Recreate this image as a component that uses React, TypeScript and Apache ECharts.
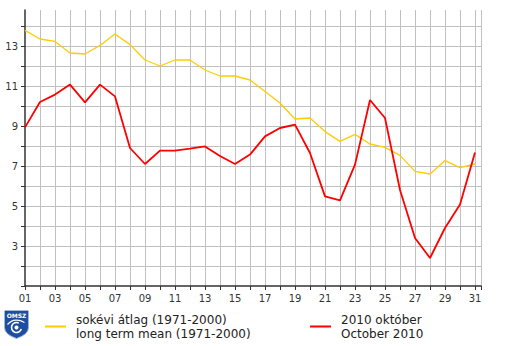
import React, { useEffect, useRef } from "react";
import * as echarts from "echarts";

const days: number[] = Array.from({ length: 31 }, (_, i) => i + 1);
const longTermMean: number[] = [
  13.78, 13.35, 13.23, 12.65, 12.6, 13.03, 13.6, 13.07, 12.3, 12.0,
  12.3, 12.3, 11.8, 11.5, 11.5, 11.3, 10.73, 10.15, 9.35, 9.4,
  8.72, 8.23, 8.58, 8.1, 7.93, 7.53, 6.73, 6.6, 7.27, 6.92, 7.1,
];
const october2010: number[] = [
  8.93, 10.2, 10.57, 11.07, 10.18, 11.07, 10.48, 7.9, 7.1, 7.77,
  7.77, 7.87, 7.98, 7.5, 7.1, 7.57, 8.48, 8.9, 9.07, 7.65,
  5.48, 5.28, 7.07, 10.3, 9.4, 5.8, 3.4, 2.4, 3.9, 5.07, 7.68,
];
const yLabelValues: number[] = [3, 5, 7, 9, 11, 13];
const yTickValues: number[] = [1, 2, 3, 4, 5, 6, 7, 8, 9, 10, 11, 12, 13, 14];
const legendMean: string[] = ["sokévi átlag (1971-2000)", "long term mean (1971-2000)"];
const legendOct: string[] = ["2010 október", "October 2010"];

const FONT = "DejaVu Sans";

echarts.graphic.registerShape(
  "omszShield",
  echarts.graphic.extendPath(
    "M1,0 L23,0 Q24,0 24,1 L24,17 Q24,24 12,28 Q0,24 0,17 L0,1 Q0,0 1,0 Z",
    {}
  )
);

export default function App() {
  const ref = useRef<HTMLDivElement>(null);
  useEffect(() => {
    if (!ref.current) return;
    const chart = echarts.init(ref.current, undefined, { renderer: "svg" });
    const axisColor = "#333";
    const gridColor = "#c0c0c0";
    chart.setOption({
      animation: false,
      backgroundColor: "#fff",
      grid: { left: 25, top: 10, right: 24, bottom: 60, containLabel: false },
      xAxis: {
        type: "value",
        min: 1,
        max: 31.4,
        interval: 1,
        axisLine: { show: true, onZero: false, lineStyle: { color: axisColor, width: 1.5 } },
        axisTick: { show: true, length: 4, lineStyle: { color: axisColor } },
        axisLabel: {
          margin: 7,
          color: "#333",
          fontFamily: FONT,
          fontSize: 10,
          formatter: (v: number) =>
            Number.isInteger(v) && v % 2 === 1 && v <= 31 ? String(v).padStart(2, "0") : "",
        },
        splitLine: {
          show: true,
          showMinLine: false,
          lineStyle: { color: gridColor, width: 1 },
        },
      },
      yAxis: {
        type: "value",
        min: 1,
        max: 14.8,
        interval: 2,
        axisLine: { show: true, onZero: false, lineStyle: { color: axisColor, width: 1.5 } },
        axisTick: { show: true, length: 4, customValues: yTickValues, lineStyle: { color: axisColor } },
        axisLabel: {
          margin: 7,
          color: "#333",
          fontFamily: FONT,
          fontSize: 10,
          customValues: yLabelValues,
        },
        splitLine: {
          show: true,
          showMinLine: false,
          lineStyle: { color: gridColor, width: 1 },
        },
      },
      series: [
        {
          name: "long term mean",
          type: "line",
          data: days.map((d, i) => [d, longTermMean[i]]),
          symbol: "none",
          lineStyle: { color: "#ffcc00", width: 1.3 },
          z: 3,
        },
        {
          name: "October 2010",
          type: "line",
          data: days.map((d, i) => [d, october2010[i]]),
          symbol: "none",
          lineStyle: { color: "#ff0000", width: 1.8 },
          z: 4,
        },
      ],
      graphic: [
        {
          type: "group",
          left: 4,
          top: 310,
          children: [
            {
              type: "omszShield",
              x: 0,
              y: 0,
              scaleX: 1,
              scaleY: 1,
              style: { fill: "#1d4f9e", stroke: "#9fb6dc", lineWidth: 1 },
            },
            {
              type: "text",
              x: 12,
              y: 2,
              style: {
                text: "OMSZ",
                fill: "#fff",
                font: "bold 6px " + FONT,
                textAlign: "center",
                textVerticalAlign: "top",
              },
            },
            {
              type: "arc",
              shape: { cx: 12, cy: 17, r: 5, startAngle: 0.3, endAngle: 5.2 },
              style: { stroke: "#fff", lineWidth: 1.6, fill: "none" },
            },
            {
              type: "circle",
              shape: { cx: 12, cy: 17, r: 2 },
              style: { fill: "#fff" },
            },
            {
              type: "bezierCurve",
              shape: { x1: 3, y1: 14, x2: 20, y2: 12, cpx1: 8, cpy1: 8, cpx2: 15, cpy2: 9 },
              style: { stroke: "#fff", lineWidth: 1.2, fill: "none" },
            },
          ],
        },
        {
          type: "line",
          shape: { x1: 45, y1: 326.5, x2: 66, y2: 326.5 },
          style: { stroke: "#ffcc00", lineWidth: 2 },
        },
        {
          type: "text",
          x: 76,
          y: 320,
          style: { text: legendMean[0], fill: "#222", font: "12px " + FONT, textVerticalAlign: "middle" },
        },
        {
          type: "text",
          x: 76,
          y: 334,
          style: { text: legendMean[1], fill: "#222", font: "12px " + FONT, textVerticalAlign: "middle" },
        },
        {
          type: "line",
          shape: { x1: 310, y1: 326.5, x2: 331, y2: 326.5 },
          style: { stroke: "#ff0000", lineWidth: 2 },
        },
        {
          type: "text",
          x: 341,
          y: 320,
          style: { text: legendOct[0], fill: "#222", font: "12px " + FONT, textVerticalAlign: "middle" },
        },
        {
          type: "text",
          x: 341,
          y: 334,
          style: { text: legendOct[1], fill: "#222", font: "12px " + FONT, textVerticalAlign: "middle" },
        },
      ],
    });
    return () => chart.dispose();
  }, []);
  return (
    <div
      ref={ref}
      style={{ width: 505, height: 346, position: "absolute", left: 0, top: 0 }}
    />
  );
}
